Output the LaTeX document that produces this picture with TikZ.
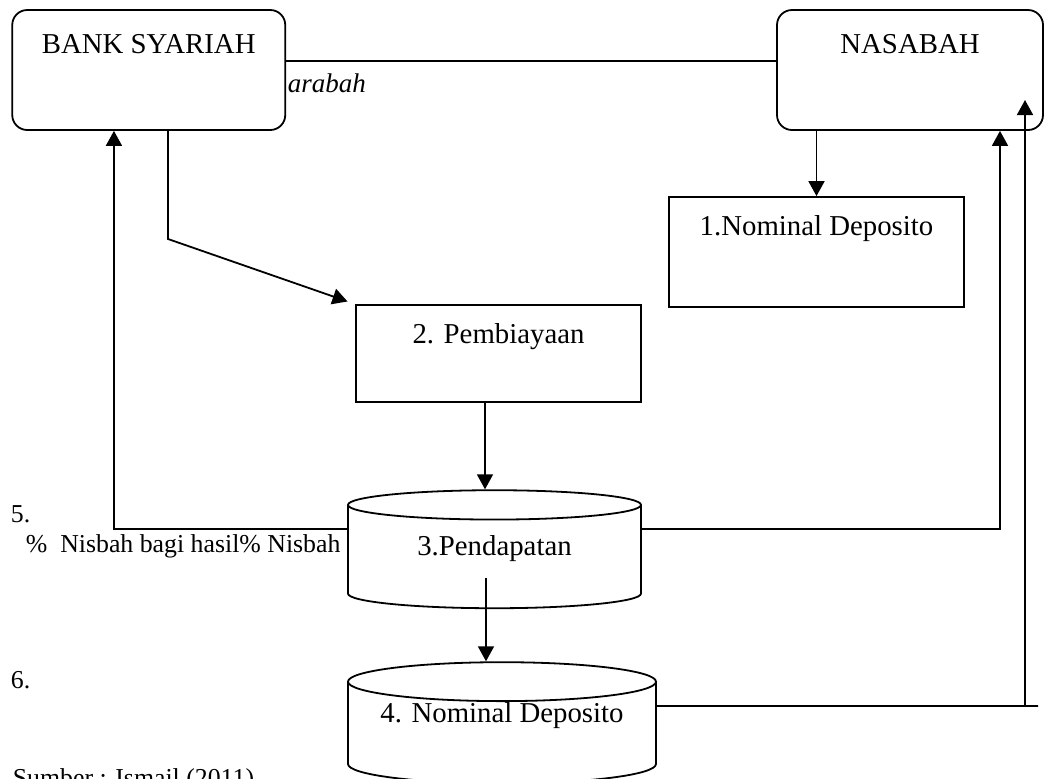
\documentclass[tikz,border=0pt]{standalone}
\usepackage{fontspec}
\setmainfont{Liberation Serif}
\usepackage{tikz}
\usetikzlibrary{arrows.meta}
\usetikzlibrary{shapes.geometric}

\begin{document}
\begin{tikzpicture}[x=0.5pt,y=-0.5pt,line width=0.9pt,
		bigfont/.style={font=\fontsize{14.4}{17}\selectfont},
		smallfont/.style={font=\fontsize{12.9}{15}\selectfont},
		party/.style={draw,rounded corners=7.5pt,inner sep=0pt,bigfont,text height=21.5pt,text depth=38.5pt},
		process/.style={draw,inner sep=0pt,bigfont},
		store/.style={draw,fill=white,cylinder,shape border rotate=90,aspect=0.19,inner sep=0pt,bigfont,text height=10pt},
		arr/.style={-{Triangle[length=7.5pt,width=8pt]}}]
			\useasboundingbox (0,0) rectangle (1044,778);
			
			% pihak
			
			\node[party,minimum width=136.5pt] (bank) at (148.75,70) {BANK SYARIAH};
			\node[party,minimum width=133pt] (nasabah) at (910,70) {NASABAH};
			
			% proses
			
			\node[process,minimum width=147.5pt,text height=19pt,text depth=36pt] (dep1) at (816.5,252) {1.Nominal Deposito};
			\node[process,minimum width=142.5pt,text height=19pt,text depth=29.5pt] (pemb) at (498.5,353.5) {2. Pembiayaan};
			\node[store,minimum width=146.5pt,minimum height=59pt,text depth=12pt] (pend) at (494.5,557) {3.Pendapatan};
			\node[store,aspect=0.16,minimum width=154pt,minimum height=58pt,text depth=21pt] (dep4) at (502,733) {4. Nominal Deposito};
			
			% teks lepas
			
			\node[font={\fontsize{13.5}{16}\selectfont\itshape},anchor=base west,inner sep=0pt] (akad) at (287,92) {arabah};
			\node[smallfont,anchor=base west,inner sep=0pt] (no5) at (10,522) {5.};
			\node[smallfont,anchor=base west,inner sep=0pt] (nisbah) at (25,552) {\%\ \ Nisbah bagi hasil\% Nisbah};
			\node[smallfont,anchor=base west,inner sep=0pt] (no6) at (10,688) {6.};
			\node[smallfont,anchor=base west,inner sep=0pt] (sumber) at (12,786) {Sumber : Ismail (2011)};
			
			% alur
			
			\coordinate (bend) at (168,239);
			\coordinate (pendout) at (486,578);
			\coordinate (tip) at (1025,100);
			\coordinate (dend) at (1038,706);
			
			\draw ([yshift=4.5pt]bank.east) -- ([yshift=4.5pt]nasabah.west);
			\draw[arr] (dep1.north |- nasabah.south) -- (dep1.north);
			\draw[arr,shorten >=4pt] (bank.south -| bend) -- (bend) -- (pemb.north west);
			\draw[arr] ([xshift=-6.75pt]pemb.south) -- ([xshift=-6.75pt]pemb.south |- pend.north);
			\draw[arr] (pendout) -- (pendout |- dep4.north);
			\draw[arr] ([yshift=14pt]pend.west) -| ([xshift=-17.4pt]bank.south);
			\draw[arr] ([yshift=14pt]pend.east) -| ([xshift=45pt]nasabah.south);
			\draw ([yshift=13.5pt]dep4.east) -- (dend);
			\draw[arr] (tip |- dend) -- (tip);
		\end{tikzpicture}
\end{document}
